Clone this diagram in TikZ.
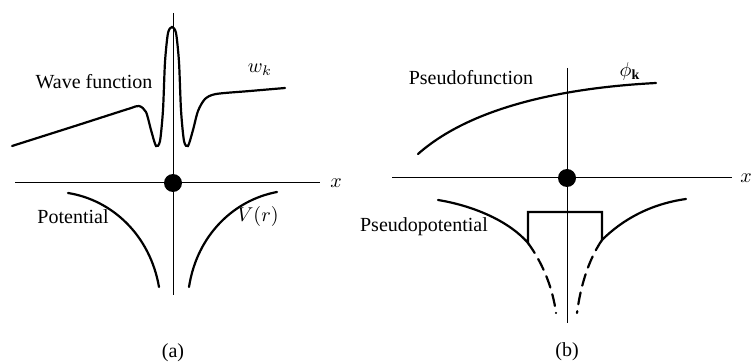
\documentclass[tikz,border=0pt]{standalone}
\usepackage{fontspec}
\setmainfont{Liberation Serif}
\usetikzlibrary{positioning}

\begin{document}
\begin{tikzpicture}[
  x=0.5pt, y=-0.5pt,
  axisLine/.style ={line width=0.5pt},
  curveLine/.style={line width=1.1pt, line cap=round},
  dashLine/.style ={curveLine, dash pattern=on 6pt off 3.5pt},
  nucleus/.style  ={circle, fill=black, inner sep=0pt, minimum size=9pt},
  label/.style    ={font=\fontsize{10}{12}\selectfont, inner sep=1pt},
]
\useasboundingbox (0,0) rectangle (755,363);

% (a) true potential and wave function
\coordinate (aTop) at (173,13);
\coordinate (aBot) at (173,295);
\coordinate (aL) at (15,183);
\coordinate (aR) at (320,183);
\draw[axisLine] (aTop) -- (aBot);
\draw[axisLine] (aL) -- (aR);
\node[nucleus] (aDot) at (173,183) {};
\node[label, right=4pt of aR] (aX) {$x$};

\draw[curveLine] plot[smooth, tension=0.45] coordinates {
  (12,146) (75,126) (128,109) (139,106) (146,112) (151,130) (156,146)
  (160,141) (163,110) (165,62) (168,33) (172,27) (176,33) (179,62)
  (181,110) (184,141) (188,146) (193,130) (198,111) (205,99) (216,94)
  (250,91) (285,88)};
\node[label] (aWave) at (94,82) {Wave function};
\node[label] (aWk) at (260,70) {$w_k$};

\draw[curveLine] (68,193) .. controls (112,200) and (150,235) .. (159,287);
\draw[curveLine] (277,192) .. controls (234,200) and (197,235) .. (189,287);
\node[label] (aPot) at (73,217) {Potential};
\node[label] (aVr) at (258,217) {$V(r)$};
\node[label] (aCap) at (173,353) {(a)};

% (b) pseudopotential and pseudofunction
\coordinate (bTop) at (567,68);
\coordinate (bBot) at (567,323);
\coordinate (bL) at (392,178);
\coordinate (bR) at (732,178);
\draw[axisLine] (bTop) -- (bBot);
\draw[axisLine] (bL) -- (bR);
\node[nucleus] (bDot) at (567,178) {};
\node[label, right=3pt of bR] (bX) {$x$};

\draw[curveLine] (418,154) .. controls (470,108) and (560,88) .. (656,83);
\node[label] (bPseudo) at (471,78) {Pseudofunction};
\node[label] (bPhi) at (630,72) {$\phi_{\mathbf{k}}$};

\coordinate (bCoreL) at (528,243);
\coordinate (bCoreR) at (602,240);
\draw[curveLine] (438,200) .. controls (475,206) and (510,222) .. (bCoreL)
  -- (528,212) -- (602,212) -- (bCoreR)
  .. controls (622,220) and (650,204) .. (686,199);
\draw[dashLine] (bCoreL) .. controls (544,265) and (553,290) .. (556,313);
\draw[dashLine] (bCoreR) .. controls (587,262) and (580,290) .. (577,313);
\node[label] (bPot) at (424,227) {Pseudopotential};
\node[label] (bCap) at (567,352) {(b)};
\end{tikzpicture}
\end{document}
